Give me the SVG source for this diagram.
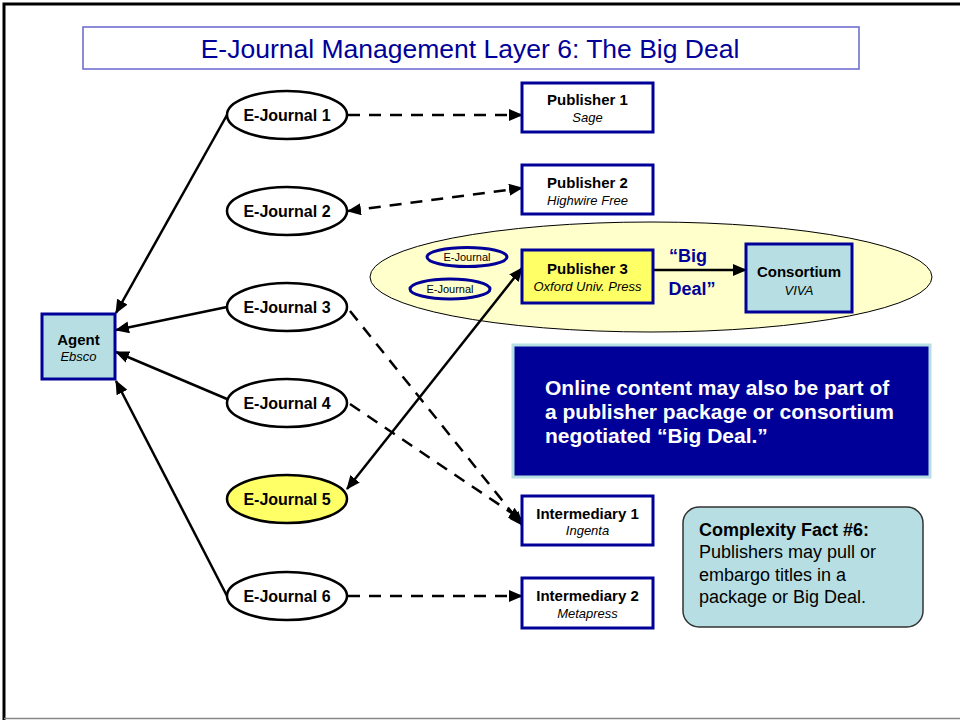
<svg xmlns="http://www.w3.org/2000/svg" width="960" height="721" viewBox="0 0 960 721">
<defs>
<marker id="ah" viewBox="0 0 14 12" refX="13" refY="6" markerWidth="14" markerHeight="12" markerUnits="userSpaceOnUse" orient="auto-start-reverse">
<path d="M0,0 L14,6 L0,12 z" fill="#000"/>
</marker>
<style>
text{font-family:"Liberation Sans",Arial,sans-serif;text-anchor:middle}
.ej{fill:#fff;stroke:#000;stroke-width:2.5}
.bx{fill:#fff;stroke:#000099;stroke-width:3}
.lb{font-weight:bold;font-size:15px;fill:#000}
.ejt{font-weight:bold;font-size:16px;fill:#000}
.it{font-style:italic;font-size:13px;fill:#000}
.sol{stroke:#000;stroke-width:2.5;fill:none}
.dsh{stroke:#000;stroke-width:2.5;fill:none;stroke-dasharray:12 9}
</style>
</defs>
<rect x="0" y="0" width="960" height="721" fill="#fff"/>
<path d="M4,720 L4,4 L960,4" fill="none" stroke="#000" stroke-width="3"/>
<line x1="4" y1="718.5" x2="960" y2="718.5" stroke="#888" stroke-width="1.5"/>

<g id="title">
<rect x="83" y="27" width="776" height="42" fill="#fff" stroke="#6666cc" stroke-width="1.5"/>
<text x="470" y="58" font-size="26.5" fill="#000099">E-Journal Management Layer 6: The Big Deal</text>
</g>

<g id="bigdeal-ellipse">
<ellipse cx="651" cy="277" rx="281" ry="55" fill="#ffffcc" stroke="#000" stroke-width="1"/>
</g>
<g id="small-ejournal-a">
<ellipse cx="467" cy="257" rx="40" ry="9.5" fill="#ffffcc" stroke="#000099" stroke-width="3"/>
<text x="467" y="261" font-size="11">E-Journal</text>
</g>
<g id="small-ejournal-b">
<ellipse cx="450" cy="289" rx="40" ry="10" fill="#ffffcc" stroke="#000099" stroke-width="3"/>
<text x="450" y="293" font-size="11">E-Journal</text>
</g>

<g id="connectors">
<line class="dsh" x1="348" y1="115" x2="522" y2="115" marker-end="url(#ah)"/>
<line class="dsh" x1="348" y1="211" x2="522" y2="188" marker-start="url(#ah)" marker-end="url(#ah)"/>
<line class="sol" x1="227" y1="115" x2="116" y2="313" marker-end="url(#ah)"/>
<line class="sol" x1="227" y1="307" x2="116" y2="330" marker-end="url(#ah)"/>
<line class="sol" x1="227" y1="399" x2="116" y2="352" marker-end="url(#ah)"/>
<line class="sol" x1="227" y1="596" x2="116" y2="381" marker-end="url(#ah)"/>
<line class="dsh" x1="350" y1="311" x2="522" y2="525" marker-end="url(#ah)"/>
<line class="dsh" x1="350" y1="404" x2="522" y2="520" marker-end="url(#ah)"/>
<line class="sol" x1="347" y1="489" x2="522" y2="268" marker-start="url(#ah)" marker-end="url(#ah)"/>
<line class="dsh" x1="348" y1="596" x2="522" y2="596" marker-end="url(#ah)"/>
<line class="sol" x1="653" y1="270" x2="746" y2="270" marker-end="url(#ah)"/>
</g>

<g id="agent">
<rect x="42" y="314" width="73" height="65" fill="#b7dfe3" stroke="#000099" stroke-width="3"/>
<text class="lb" x="78.5" y="345">Agent</text>
<text class="it" x="78.5" y="361">Ebsco</text>
</g>

<g id="ejournal1"><ellipse class="ej" cx="287" cy="115" rx="60" ry="24"/><text class="ejt" x="287" y="121">E-Journal 1</text></g>
<g id="ejournal2"><ellipse class="ej" cx="287" cy="211" rx="60" ry="24"/><text class="ejt" x="287" y="217">E-Journal 2</text></g>
<g id="ejournal3"><ellipse class="ej" cx="287" cy="307" rx="60" ry="24"/><text class="ejt" x="287" y="313">E-Journal 3</text></g>
<g id="ejournal4"><ellipse class="ej" cx="287" cy="403" rx="60" ry="24"/><text class="ejt" x="287" y="409">E-Journal 4</text></g>
<g id="ejournal5"><ellipse class="ej" cx="287" cy="499" rx="60" ry="24" style="fill:#ffff66"/><text class="ejt" x="287" y="505">E-Journal 5</text></g>
<g id="ejournal6"><ellipse class="ej" cx="287" cy="596" rx="60" ry="24"/><text class="ejt" x="287" y="602">E-Journal 6</text></g>

<g id="publisher1">
<rect class="bx" x="522" y="83" width="131" height="49"/>
<text class="lb" x="587.5" y="105">Publisher 1</text>
<text class="it" x="587.5" y="122">Sage</text>
</g>
<g id="publisher2">
<rect class="bx" x="522" y="165" width="131" height="49"/>
<text class="lb" x="587.5" y="188">Publisher 2</text>
<text class="it" x="587.5" y="205">Highwire Free</text>
</g>
<g id="publisher3">
<rect class="bx" x="522" y="250" width="131" height="53" style="fill:#ffff66"/>
<text class="lb" x="587.5" y="274">Publisher 3</text>
<text class="it" x="587.5" y="291">Oxford Univ. Press</text>
</g>
<g id="bigdeal-label">
<text x="688" y="262" font-size="18" font-weight="bold" fill="#000099">“Big</text>
<text x="692" y="295" font-size="18" font-weight="bold" fill="#000099">Deal”</text>
</g>
<g id="consortium">
<rect x="746" y="244" width="106" height="68" fill="#b7dfe3" stroke="#000099" stroke-width="3"/>
<text class="lb" x="799" y="277">Consortium</text>
<text class="it" x="799" y="295">VIVA</text>
</g>

<g id="note-bigdeal">
<rect x="513" y="345" width="417" height="132" fill="#000099" stroke="#b7dfe3" stroke-width="3"/>
<text x="545" y="395" font-size="21" font-weight="bold" fill="#fff" style="text-anchor:start">Online content may also be part of</text>
<text x="545" y="419" font-size="21" font-weight="bold" fill="#fff" style="text-anchor:start">a publisher package or consortium</text>
<text x="545" y="443" font-size="21" font-weight="bold" fill="#fff" style="text-anchor:start">negotiated “Big Deal.”</text>
</g>

<g id="intermediary1">
<rect class="bx" x="522" y="496" width="131" height="49"/>
<text class="lb" x="587.5" y="519">Intermediary 1</text>
<text class="it" x="587.5" y="535">Ingenta</text>
</g>
<g id="intermediary2">
<rect class="bx" x="522" y="578" width="131" height="50"/>
<text class="lb" x="587.5" y="601">Intermediary 2</text>
<text class="it" x="587.5" y="618">Metapress</text>
</g>

<g id="complexity-fact">
<rect x="683" y="507" width="240" height="120" rx="16" fill="#b7dfe3" stroke="#333" stroke-width="1.5"/>
<text x="699" y="536" font-size="18" font-weight="bold" fill="#000" style="text-anchor:start">Complexity Fact #6:</text>
<text x="699" y="558" font-size="18" fill="#000" style="text-anchor:start">Publishers may pull or</text>
<text x="699" y="581" font-size="18" fill="#000" style="text-anchor:start">embargo titles in a</text>
<text x="699" y="603" font-size="18" fill="#000" style="text-anchor:start">package or Big Deal.</text>
</g>
</svg>
